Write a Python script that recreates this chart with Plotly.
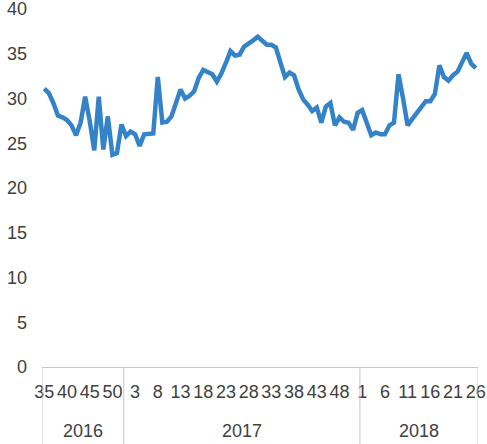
import plotly.graph_objects as go

# weekly values, week 35 of 2016 to week 26 of 2018
years = ["2016"] * 18 + ["2017"] * 52 + ["2018"] * 26
weeks = list(range(35, 53)) + list(range(1, 53)) + list(range(1, 27))
values = [
    31.1, 30.6, 29.5, 28.1, 27.9, 27.6, 27.0, 25.9, 27.3, 30.2,
    27.5, 24.2, 30.2, 24.3, 28.0, 23.7, 23.9, 27.1,
    25.8, 26.3, 26.0, 24.7, 26.0, 26.0, 26.1, 32.4, 27.3, 27.4,
    28.0, 29.5, 31.0, 30.0, 30.3, 30.8, 32.3, 33.2, 32.9, 32.7,
    31.9, 32.8, 34.0, 35.3, 34.8, 34.9, 35.8, 36.1, 36.5, 36.9,
    36.4, 36.0, 36.0, 35.7, 34.0, 32.4, 32.9, 32.6, 31.0, 29.9,
    29.3, 28.6, 29.0, 27.3, 29.1, 29.5, 27.0, 27.9, 27.4, 27.3,
    26.5, 28.4,
    28.7, 27.3, 25.9, 26.2, 26.0, 26.0, 27.0, 27.3, 32.7, 30.0,
    27.0, 27.7, 28.4, 29.1, 29.7, 29.7, 30.5, 33.7, 32.4, 32.0,
    32.6, 33.0, 34.0, 35.1, 33.9, 33.4,
]

idx = list(range(len(values)))
font = dict(family="Liberation Sans Narrow, Liberation Sans, Arial", size=18, color="#404040")
grey = "#C8C8C8"

fig = go.Figure()
fig.add_trace(go.Scatter(x=idx, y=values, mode="lines",
                         line=dict(color="#3483C9", width=4.5), showlegend=False))

# year boundaries and labels
bounds = [-0.5]
for i in range(1, len(years)):
    if years[i] != years[i - 1]:
        bounds.append(i - 0.5)
bounds.append(len(years) - 0.5)
for b in bounds:
    fig.add_shape(type="line", xref="x", yref="paper", x0=b, x1=b, y0=0, y1=-0.3,
                  line=dict(color=grey, width=1))
for k, yr in enumerate(sorted(set(years))):
    fig.add_annotation(x=(bounds[k] + bounds[k + 1]) / 2, y=0, xref="x", yref="paper",
                       yanchor="middle", yshift=-64, text=yr, showarrow=False, font=font)

fig.update_layout(
    width=487, height=444,
    margin=dict(l=42, r=9, t=9, b=77),
    plot_bgcolor="white", paper_bgcolor="white",
    font=font,
    xaxis=dict(range=[-0.5, len(values) - 0.5], tickvals=idx[::5],
               ticktext=[str(w) for w in weeks[::5]], showgrid=False, zeroline=False,
               showline=True, linecolor=grey, linewidth=1, ticks="",
               ticklabelstandoff=8, automargin=False, ticklabeloverflow="allow"),
    yaxis=dict(range=[0, 40], tickvals=list(range(0, 41, 5)), showgrid=False,
               zeroline=False, showline=False, ticks="", ticklabelstandoff=14,
               automargin=False, ticklabeloverflow="allow"),
)

fig.write_html("out.html", config={"displayModeBar": False},
               post_script="document.body.style.margin = '0';")
